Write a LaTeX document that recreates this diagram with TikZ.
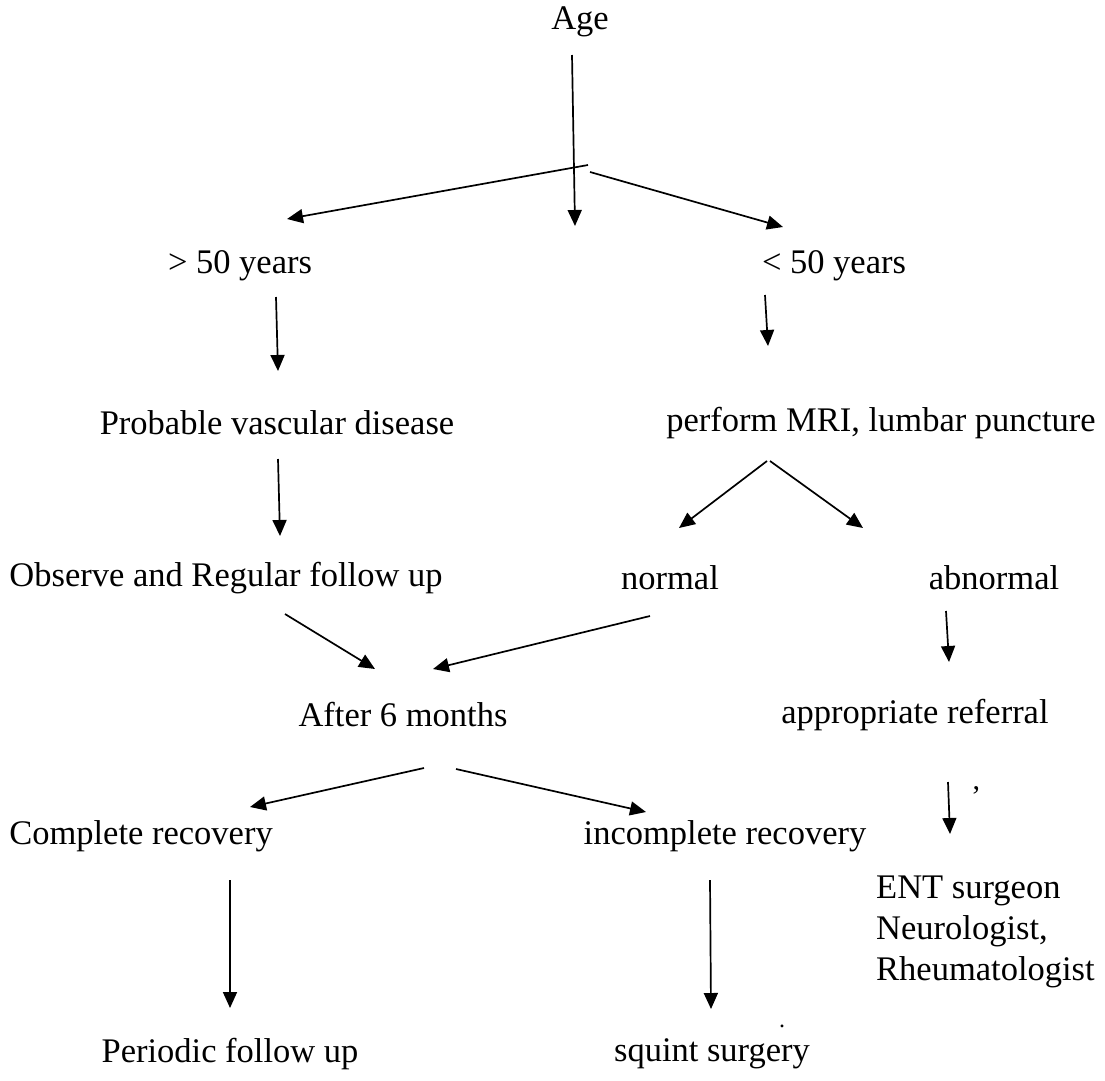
\documentclass[tikz,border=0pt]{standalone}
\usepackage{fontspec}
\setmainfont{Liberation Serif}
\usetikzlibrary{arrows.meta}
\begin{document}
\begin{tikzpicture}[x=1pt,y=-1pt,
  lbl/.style={font=\fontsize{34.5}{41}\selectfont, inner sep=0pt},
  arr/.style={line width=1.7pt, -{Triangle[length=16pt,width=14pt]}}]
\useasboundingbox (0,0) rectangle (1105,1080);
% text nodes
\node[lbl] (age) at (580,22) {Age};
\node[lbl] (gt) at (240,266) {> 50 years};
\node[lbl] (lt) at (834,266) {< 50 years};
\node[lbl] (vasc) at (277,423) {Probable vascular disease};
\node[lbl] (mri) at (881,423) {perform MRI, lumbar puncture};
\node[lbl] (obs) at (226,578) {Observe and Regular follow up};
\node[lbl] (norm) at (670,578) {normal};
\node[lbl] (abn) at (994,578) {abnormal};
\node[lbl] (six) at (403,715) {After 6 months};
\node[lbl] (ref) at (915,715) {appropriate referral};
\node[lbl] (comp) at (141,836) {Complete recovery};
\node[lbl] (incomp) at (725,836) {incomplete recovery};
\node[lbl, font=\fontsize{34.5}{41}\selectfont, anchor=west, align=left] (ent) at (876,932) {ENT surgeon\\Neurologist,\\Rheumatologist};
\node[lbl] (per) at (230,1054) {Periodic follow up};
\node[lbl] (sq) at (712,1054) {squint surgery};
\node[lbl, font=\fontsize{30}{36}\selectfont] (q1) at (976,797) {’};
\node[lbl, font=\fontsize{24}{28}\selectfont] (q2) at (782,1026) {.};
% arrow coordinates
\coordinate (a1s) at (572,55);   \coordinate (a1e) at (575,226);
\coordinate (a2s) at (588,165);  \coordinate (a2e) at (287,219);
\coordinate (a3s) at (590,172);  \coordinate (a3e) at (783,227);
\coordinate (a4s) at (276,297);  \coordinate (a4e) at (278,371);
\coordinate (a5s) at (765,295);  \coordinate (a5e) at (768,346);
\coordinate (a6s) at (278,459);  \coordinate (a6e) at (280,536);
\coordinate (a7s) at (767,461);  \coordinate (a7e) at (679,528);
\coordinate (a8s) at (770,461);  \coordinate (a8e) at (863,528);
\coordinate (a9s) at (285,614);  \coordinate (a9e) at (375,669);
\coordinate (a10s) at (650,616); \coordinate (a10e) at (433,669);
\coordinate (a11s) at (946,611); \coordinate (a11e) at (949,662);
\coordinate (a12s) at (424,768); \coordinate (a12e) at (250,807);
\coordinate (a13s) at (456,769); \coordinate (a13e) at (646,812);
\coordinate (a14s) at (948,782); \coordinate (a14e) at (950,834);
\coordinate (a15s) at (230,880); \coordinate (a15e) at (230,1008);
\coordinate (a16s) at (710,880); \coordinate (a16e) at (711,1009);
% arrows
\draw[arr] (a1s) -- (a1e);
\draw[arr] (a2s) -- (a2e);
\draw[arr] (a3s) -- (a3e);
\draw[arr] (a4s) -- (a4e);
\draw[arr] (a5s) -- (a5e);
\draw[arr] (a6s) -- (a6e);
\draw[arr] (a7s) -- (a7e);
\draw[arr] (a8s) -- (a8e);
\draw[arr] (a9s) -- (a9e);
\draw[arr] (a10s) -- (a10e);
\draw[arr] (a11s) -- (a11e);
\draw[arr] (a12s) -- (a12e);
\draw[arr] (a13s) -- (a13e);
\draw[arr] (a14s) -- (a14e);
\draw[arr] (a15s) -- (a15e);
\draw[arr] (a16s) -- (a16e);
\end{tikzpicture}
\end{document}
